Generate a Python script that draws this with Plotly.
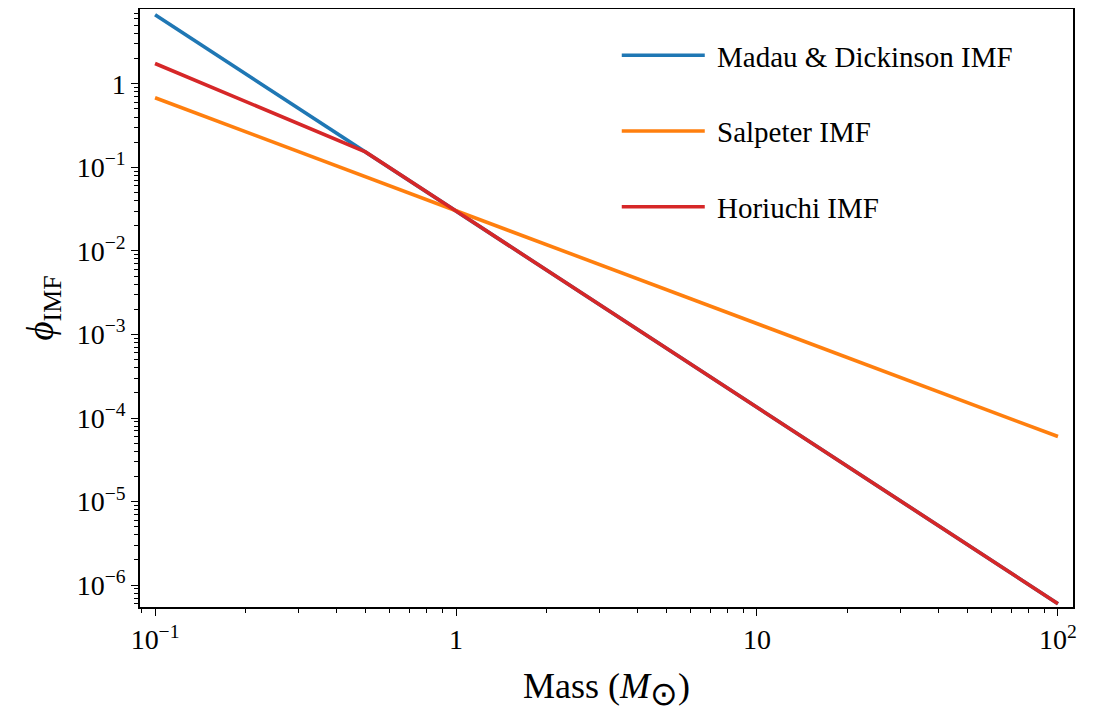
import plotly.graph_objects as go

# Data
mass = [0.1, 0.5, 1, 10, 100]
madau = [6.7, 0.153, 0.030, 1.35e-4, 6.0e-7]
salpeter = [0.68, 0.077, 0.030, 1.34e-3, 6.0e-5]
horiuchi = [1.75, 0.153, 0.030, 1.35e-4, 6.0e-7]

x_tickvals = [0.1, 1, 10, 100]
x_ticktext = ["10<sup>−1</sup>", "1", "10", "10<sup>2</sup>"]
y_tickvals = [1e-6, 1e-5, 1e-4, 1e-3, 1e-2, 1e-1, 1]
y_ticktext = ["10<sup>−6</sup>", "10<sup>−5</sup>", "10<sup>−4</sup>", "10<sup>−3</sup>",
              "10<sup>−2</sup>", "10<sup>−1</sup>", "1"]

x_minor = [m * 10.0 ** e for e in range(-2, 3) for m in range(2, 10)]
y_minor = [m * 10.0 ** e for e in range(-7, 1) for m in range(2, 10)]

FONT = "Liberation Serif"
NB = "\u00a0"

fig = go.Figure()
fig.add_trace(go.Scatter(x=mass, y=madau, mode="lines", name=NB + "Madau & Dickinson IMF",
                         line=dict(color="#1f77b4", width=3.6), legendgroup="a"))
fig.add_trace(go.Scatter(x=mass, y=salpeter, mode="lines", name=NB + "Salpeter IMF",
                         line=dict(color="#ff7f0e", width=3.6), legendgroup="b"))
fig.add_trace(go.Scatter(x=mass, y=horiuchi, mode="lines", name=NB + "Horiuchi IMF",
                         line=dict(color="#d62728", width=3.6), legendgroup="c"))

axis_common = dict(showgrid=False, zeroline=False, showline=True, linecolor="black",
                   linewidth=1.5, mirror=True, ticks="outside", ticklen=7, tickwidth=1.2,
                   tickcolor="black", automargin=False,
                   tickfont=dict(family=FONT, size=28, color="black"))

fig.update_xaxes(type="log", range=[-1.05, 2.05], tickmode="array",
                 tickvals=x_tickvals, ticktext=x_ticktext,
                 minor=dict(tickmode="array", tickvals=x_minor, ticks="outside",
                            ticklen=4, tickcolor="black", showgrid=False),
                 title=dict(text="Mass (<i>M</i><sub><span style='font-size:33px'>⊙</span></sub>)",
                            font=dict(family=FONT, size=36, color="black"), standoff=18),
                 **axis_common)
fig.update_yaxes(type="log", range=[-6.262, 0.895], tickmode="array",
                 tickvals=y_tickvals, ticktext=y_ticktext,
                 minor=dict(tickmode="array", tickvals=y_minor, ticks="outside",
                            ticklen=4, tickcolor="black", showgrid=False),
                 title=dict(text="<i>ϕ</i><sub>IMF</sub>",
                            font=dict(family=FONT, size=37, color="black"), standoff=12),
                 **axis_common)

fig.update_layout(
    width=1102, height=715,
    margin=dict(l=132, r=37, t=1, b=116),
    plot_bgcolor="white", paper_bgcolor="white",
    font=dict(family=FONT, color="black"),
    legend=dict(x=0.511, y=0.965, xanchor="left", yanchor="top",
                font=dict(family=FONT, size=29, color="black"),
                bgcolor="rgba(0,0,0,0)", tracegroupgap=35, itemwidth=83),
    showlegend=True,
)

fig.write_html("out.html")
